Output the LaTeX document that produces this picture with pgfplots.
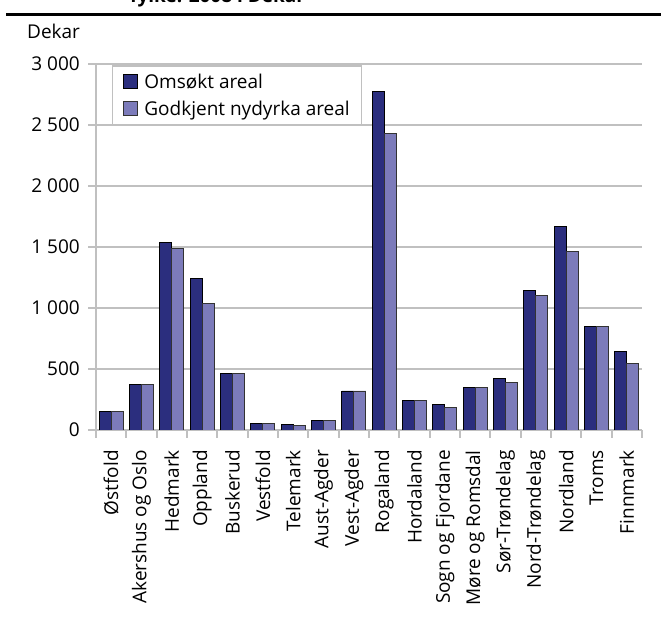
\documentclass[border=0pt]{standalone}
\usepackage{fontspec}
\setmainfont{Open Sans}
\usepackage{pgfplots}
\pgfplotsset{compat=1.18}

\definecolor{omsokt}{RGB}{43,46,126}
\definecolor{godkjent}{RGB}{124,123,186}
\definecolor{rutenett}{RGB}{192,192,192}

\begin{document}
\begin{tikzpicture}[font=\fontsize{19}{22}\selectfont]
\useasboundingbox (0,0) rectangle (661pt,628pt);
% avskåret tittel og strek øverst
\node[anchor=base west, inner sep=0pt, font=\fontsize{19}{22}\selectfont\bfseries] at (130pt,625pt) {fylke. 2008 i Dekar};
\draw[line width=2.7pt] (6pt,613.3pt) -- (661pt,613.3pt);
\node[anchor=base west, inner sep=0pt] at (27pt,589pt) {Dekar};

\begin{axis}[
  at={(96pt,198pt)}, anchor=south west,
  width=546pt, height=366pt, scale only axis,
  ybar=0pt, bar width=12pt,
  ymin=0, ymax=3000,
  xmin=-0.5, xmax=17.5,
  ytick={0,500,...,3000},
  xtick={0,...,17},
  xticklabels={Østfold, Akershus og Oslo, Hedmark, Oppland, Buskerud, Vestfold,
    Telemark, Aust-Agder, Vest-Agder, Rogaland, Hordaland, Sogn og Fjordane,
    Møre og Romsdal, Sør-Trøndelag, Nord-Trøndelag, Nordland, Troms, Finnmark},
  x tick label style={rotate=90, anchor=east, inner sep=0pt, xshift=-12pt},
  y tick label style={inner sep=0pt, xshift=-8pt},
  minor xtick={-0.5,0.5,...,17.5},
  major x tick style={draw=none},
  minor x tick style={rutenett, line width=2pt},
  ytick style={rutenett, line width=2pt},
  tick align=outside,
  major tick length=8pt, minor tick length=8pt,
  axis x line*=bottom, axis y line*=left,
  axis line style={rutenett, line width=2.5pt},
  ymajorgrids, major grid style={rutenett, line width=2pt},
  /pgf/number format/.cd, 1000 sep={\ }, assume math mode=true,
  /pgfplots/.cd,
  legend style={at={(0.029,0.997)}, anchor=north west, draw=rutenett,
    line width=1.5pt, inner xsep=10pt, inner ysep=6pt, row sep=7pt,
    font=\fontsize{19}{22}\selectfont, legend cell align=left,
    /tikz/every odd column/.append style={column sep=5pt}},
  legend image code/.code={\draw[#1, line width=0.8pt] (0pt,-7pt) rectangle (14pt,7pt);},
]
\addplot[fill=omsokt, draw=black, line width=0.8pt] coordinates {
  (0,150) (1,375) (2,1535) (3,1240) (4,460) (5,50) (6,42) (7,75) (8,320)
  (9,2775) (10,240) (11,210) (12,350) (13,425) (14,1145) (15,1670) (16,850) (17,645)};
\addplot[fill=godkjent, draw=black!80, line width=0.8pt] coordinates {
  (0,150) (1,375) (2,1485) (3,1035) (4,460) (5,50) (6,40) (7,75) (8,320)
  (9,2430) (10,240) (11,185) (12,350) (13,390) (14,1105) (15,1460) (16,850) (17,545)};
\legend{Omsøkt areal, Godkjent nydyrka areal}
\end{axis}
\end{tikzpicture}
\end{document}
